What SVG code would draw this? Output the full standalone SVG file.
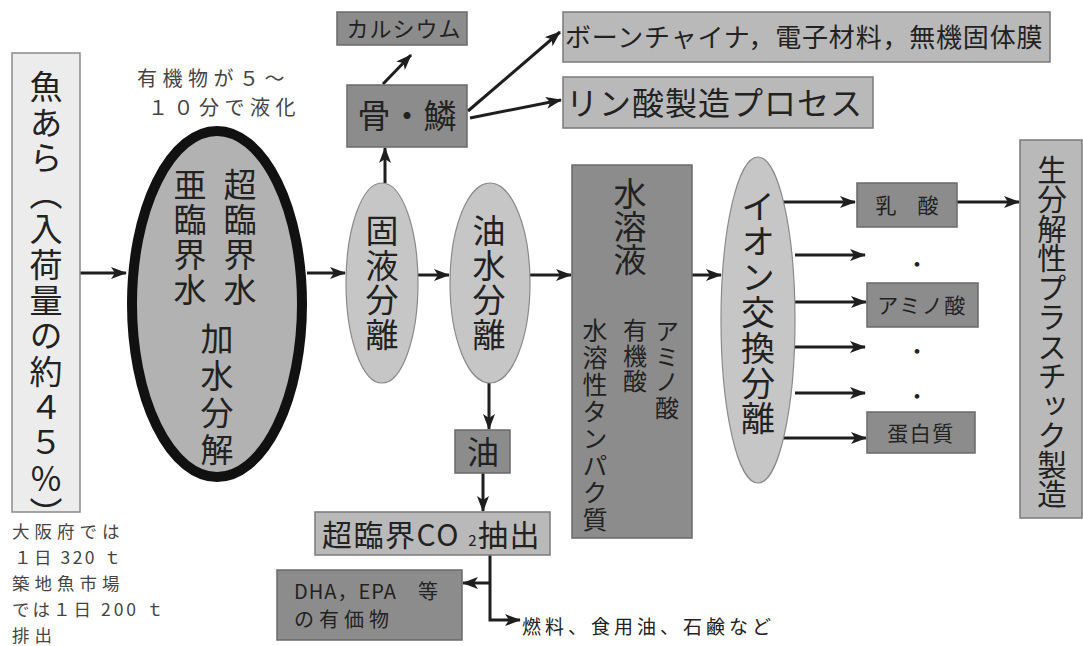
<svg xmlns="http://www.w3.org/2000/svg" width="1083" height="646" viewBox="0 0 1083 646">
<defs>
<marker id="ah" viewBox="0 0 16 12" refX="15" refY="6" markerWidth="16" markerHeight="12" markerUnits="userSpaceOnUse" orient="auto">
<path d="M0,0 L16,6 L0,12 L4,6 Z" fill="#1e1e1e"/>
</marker>
<style>
text{font-family:"Noto Sans CJK JP","Noto Sans CJK SC",sans-serif;fill:#222;}
.v{writing-mode:vertical-rl;}
.dark{fill:#8c8c8c;stroke:#6a6a6a;stroke-width:1.5;}
.light{fill:#b9b9b9;stroke:#7a7a7a;stroke-width:1.5;}
.oval{fill:#c6c6c6;stroke:#8a8a8a;stroke-width:1.2;}
.c{stroke:#1e1e1e;stroke-width:3;fill:none;}
.note{fill:#444;}
</style>
</defs>
<rect width="1083" height="646" fill="#ffffff"/>

<g id="connectors">
<line class="c" x1="80" y1="273" x2="126" y2="273" marker-end="url(#ah)"/>
<line class="c" x1="307" y1="273" x2="345" y2="273" marker-end="url(#ah)"/>
<line class="c" x1="418" y1="275" x2="449" y2="275" marker-end="url(#ah)"/>
<line class="c" x1="530" y1="275" x2="571" y2="275" marker-end="url(#ah)"/>
<line class="c" x1="692" y1="275" x2="721" y2="275" marker-end="url(#ah)"/>
<line class="c" x1="385" y1="183" x2="385" y2="148" marker-end="url(#ah)"/>
<line class="c" x1="383" y1="84" x2="411" y2="55" marker-end="url(#ah)"/>
<line class="c" x1="468" y1="111" x2="560" y2="32" marker-end="url(#ah)"/>
<line class="c" x1="470" y1="118" x2="561" y2="100" marker-end="url(#ah)"/>
<line class="c" x1="489" y1="383" x2="489" y2="429" marker-end="url(#ah)"/>
<line class="c" x1="483" y1="473" x2="483" y2="511" marker-end="url(#ah)"/>
<polyline class="c" points="490,555 490,620 520,620" marker-end="url(#ah)"/>
<line class="c" x1="490" y1="583" x2="463" y2="583" marker-end="url(#ah)"/>
<line class="c" x1="782" y1="202" x2="855" y2="202" marker-end="url(#ah)"/>
<line class="c" x1="795" y1="255" x2="865" y2="255" marker-end="url(#ah)"/>
<line class="c" x1="795" y1="302" x2="866" y2="302" marker-end="url(#ah)"/>
<line class="c" x1="795" y1="347" x2="865" y2="347" marker-end="url(#ah)"/>
<line class="c" x1="795" y1="393" x2="865" y2="393" marker-end="url(#ah)"/>
<line class="c" x1="782" y1="438" x2="866" y2="438" marker-end="url(#ah)"/>
<line class="c" x1="957" y1="202" x2="1019" y2="202" marker-end="url(#ah)"/>
</g>

<g id="fish">
<rect x="12" y="53" width="68" height="459" fill="#ececec" stroke="#8a8a8a" stroke-width="1.5"/>
<text class="v" x="46" y="70" font-size="33" letter-spacing="2.6">魚あら（入荷量の約４５％）</text>
</g>

<g id="fish-note">
<text class="note" x="12" y="538" font-size="17.5" letter-spacing="5">大阪府では</text>
<text class="note" x="14" y="564" font-size="17.5" letter-spacing="2.5">１日 320 ｔ</text>
<text class="note" x="12" y="590" font-size="17.5" letter-spacing="5">築地魚市場</text>
<text class="note" x="12" y="616" font-size="17.5" letter-spacing="3">では１日 200 ｔ</text>
<text class="note" x="12" y="642" font-size="17.5" letter-spacing="5">排出</text>
</g>

<g id="liquefy-note">
<text class="note" x="137" y="86" font-size="20" letter-spacing="5.5">有機物が５～</text>
<text class="note" x="148" y="115" font-size="20" letter-spacing="5.5">１０分で液化</text>
</g>

<g id="water">
<ellipse cx="217" cy="304" rx="85" ry="173" fill="#b2b2b2" stroke="#111" stroke-width="10"/>
<text class="v" x="240" y="168" font-size="33" letter-spacing="2">超臨界水</text>
<text class="v" x="190" y="168" font-size="33" letter-spacing="2">亜臨界水</text>
<text class="v" x="217" y="322" font-size="33" letter-spacing="4">加水分解</text>
</g>

<g id="solid-liquid">
<ellipse class="oval" cx="382" cy="283" rx="36" ry="100"/>
<text class="v" x="382" y="214" font-size="33" letter-spacing="1.5">固液分離</text>
</g>

<g id="oil-water">
<ellipse class="oval" cx="490" cy="283" rx="40" ry="100"/>
<text class="v" x="489" y="214" font-size="33" letter-spacing="1.5">油水分離</text>
</g>

<g id="calcium">
<rect class="dark" x="337" y="12" width="130" height="33"/>
<text x="404" y="37" font-size="22" text-anchor="middle" letter-spacing="1">カルシウム</text>
</g>

<g id="bone">
<rect class="dark" x="347" y="85" width="120" height="62"/>
<text x="407" y="128" font-size="33" text-anchor="middle">骨・鱗</text>
</g>

<g id="china">
<rect class="light" x="563" y="12" width="487" height="50"/>
<text x="565" y="47" font-size="26" letter-spacing="0.8">ボーンチャイナ，電子材料，無機固体膜</text>
</g>

<g id="phosphate">
<rect class="light" x="563" y="77" width="310" height="51"/>
<text x="566" y="115" font-size="32" letter-spacing="1">リン酸製造プロセス</text>
</g>

<g id="oil">
<rect class="dark" x="455" y="430" width="55" height="43"/>
<text x="483" y="464" font-size="32" text-anchor="middle">油</text>
</g>

<g id="co2">
<rect class="light" x="315" y="512" width="235" height="43"/>
<text x="322" y="546" font-size="30" letter-spacing="1.5">超臨界CO <tspan font-size="15">2</tspan>抽出</text>
</g>

<g id="dha">
<rect class="dark" x="277" y="570" width="185" height="70"/>
<text x="294" y="599" font-size="20" letter-spacing="1">DHA，EPA　等</text>
<text x="294" y="627" font-size="20" letter-spacing="5">の有価物</text>
</g>

<g id="fuel">
<text x="522" y="634" font-size="19" letter-spacing="4">燃料、食用油、石鹸など</text>
</g>

<g id="aqueous">
<rect class="dark" x="572" y="165" width="120" height="373"/>
<text class="v" x="630" y="177" font-size="33">水溶液</text>
<text class="v" x="667" y="319" font-size="24" letter-spacing="1.5">アミノ酸</text>
<text class="v" x="635" y="318" font-size="24" letter-spacing="1.5">有機酸</text>
<text class="v" x="595" y="318" font-size="25" letter-spacing="2">水溶性タンパク質</text>
</g>

<g id="ion">
<ellipse class="oval" cx="758" cy="320" rx="37" ry="163"/>
<text class="v" x="758" y="189" font-size="34" letter-spacing="1.4">イオン交換分離</text>
</g>

<g id="lactic">
<rect class="dark" x="857" y="183" width="100" height="44"/>
<text x="907" y="213" font-size="21" text-anchor="middle">乳　酸</text>
</g>

<g id="amino">
<rect class="dark" x="867" y="283" width="111" height="44"/>
<text x="922" y="313" font-size="21" text-anchor="middle" letter-spacing="1.5">アミノ酸</text>
</g>

<g id="protein">
<rect class="dark" x="867" y="412" width="108" height="41"/>
<text x="921" y="441" font-size="21" text-anchor="middle" letter-spacing="1.5">蛋白質</text>
</g>

<g id="dots">
<text x="917" y="272" font-size="22" text-anchor="middle">・</text>
<text x="917" y="359" font-size="22" text-anchor="middle">・</text>
<text x="917" y="404" font-size="22" text-anchor="middle">・</text>
</g>

<g id="bioplastic">
<rect class="light" x="1020" y="140" width="62" height="378"/>
<text class="v" x="1052" y="155" font-size="29.5">生分解性プラスチック製造</text>
</g>
</svg>
